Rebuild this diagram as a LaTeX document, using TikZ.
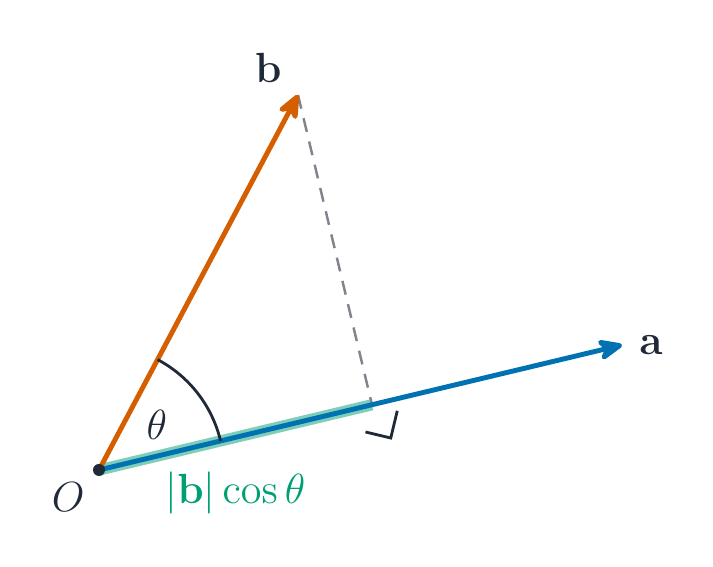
\documentclass[tikz,border=0pt]{standalone}
\usetikzlibrary{arrows.meta, positioning, calc}
\definecolor{vecblue}{RGB}{0,114,178}
\definecolor{vecorange}{RGB}{213,94,0}
\definecolor{projgreen}{RGB}{0,158,115}
\definecolor{ink}{RGB}{31,41,55}
\definecolor{guide}{RGB}{128,132,140}
\tikzset{
  vec/.style={-{Stealth[length=9pt, width=7.5pt, round]}, line width=1.4pt},
  proj/.style={line width=3.2pt, color=projgreen, opacity=0.5},
  perpline/.style={dash pattern=on 4pt off 2.8pt, line width=0.7pt, color=guide},
  veclabel/.style={font=\large, text=ink},
}

\begin{document}
\begin{tikzpicture}
        \useasboundingbox (-0.99,-0.97) rectangle (6.14,4.70);
        \coordinate (O) at (0,0);
        \coordinate (a) at (5.23,1.25);
        \coordinate (b) at (1.99,3.75);
        \coordinate (F) at ($(O)!(b)!(a)$);

        % projection of b onto a
        \draw[proj] (O) -- (F);
        \draw[perpline] (b) -- (F);
        \draw[vec, color=vecblue] (O) -- (a);
        \draw[vec, color=vecorange] (O) -- (b);

        % angle and right-angle marks
        \draw[ink, line width=0.8pt] (O) ++(13.44:1.25)
          arc[start angle=13.44, end angle=62.05, radius=1.25];
        \draw[ink, line width=0.8pt, shift={(F)}, rotate=-13.44]
          (0,-0.28) -- (0.26,-0.28) -- (0.26,0);
        \fill[ink] (O) circle (0.06);

        % labels
        \node[veclabel, right=0.05cm of a] (alabel) {$\mathbf{a}$};
        \node[veclabel, above left=0cm and 0.04cm of b] (blabel) {$\mathbf{b}$};
        \node[veclabel, below left=0cm and 0.02cm of O] (olabel) {$O$};
        \node[veclabel] (thetalabel) at ($(O)+(37.7:0.73)$) {$\theta$};
        \node[font=\large, text=projgreen, below=0.22cm] (projlabel)
          at ($(O)!0.5!(F)$) {$|\mathbf{b}|\cos\theta$};
      \end{tikzpicture}
\end{document}
